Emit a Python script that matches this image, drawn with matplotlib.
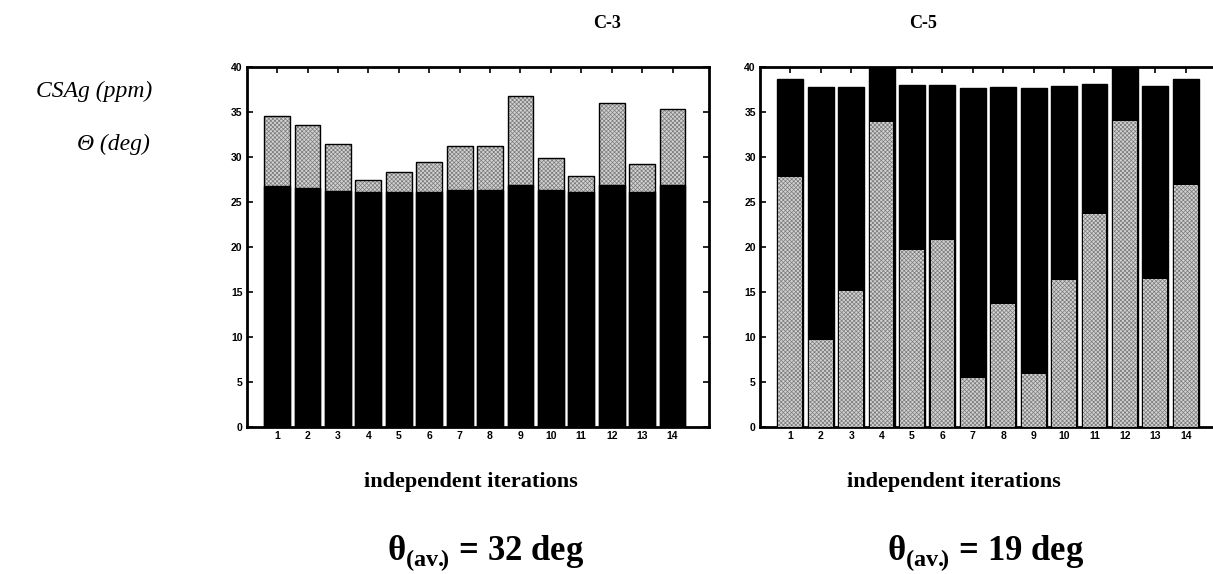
import matplotlib
matplotlib.use("Agg")
import matplotlib.pyplot as plt
import numpy as np

plt.rcParams['mathtext.fontset'] = 'custom'
plt.rcParams['mathtext.rm'] = 'Liberation Serif:bold'
plt.rcParams['mathtext.bf'] = 'Liberation Serif:bold'
plt.rcParams['hatch.linewidth'] = 0.5

iterations = list(range(1, 15))

# C-3: theta (stippled, behind) and CSAg (black, in front)
c3_theta = [34.5, 33.5, 31.4, 27.4, 28.3, 29.4, 31.2, 31.2, 36.7, 29.8, 27.9, 36.0, 29.2, 35.3]
c3_csag = [26.7, 26.5, 26.2, 26.1, 26.1, 26.1, 26.3, 26.3, 26.9, 26.3, 26.1, 26.8, 26.1, 26.8]

# C-5: CSAg (black, behind) and theta (stippled, in front)
c5_csag = [38.6, 37.7, 37.7, 42.0, 37.9, 37.9, 37.6, 37.7, 37.6, 37.8, 38.1, 42.0, 37.8, 38.6]
c5_theta = [27.7, 9.6, 15.05, 33.8, 19.65, 20.7, 5.4, 13.6, 5.9, 16.3, 23.6, 34.0, 16.45, 26.9]

titles = ['C-3', 'C-5']
averages = [32, 19]

STIP = '#d2d2d2'
DOTS = '#7a7a7a'


def style_axes(ax):
    ax.set_xlim(0, 15.2)
    ax.set_ylim(0, 40)
    ax.set_xticks(iterations)
    ax.set_yticks(np.arange(0, 41, 5))
    ax.tick_params(direction='in', top=True, right=True, length=4, width=1.2,
                   labelsize=7.5, pad=3)
    for lab in ax.get_xticklabels() + ax.get_yticklabels():
        lab.set_fontfamily('Liberation Sans')
        lab.set_fontweight('bold')
    for sp in ax.spines.values():
        sp.set_linewidth(2.0)


fig = plt.figure(figsize=(12.13, 5.74), dpi=100)
ax1 = fig.add_axes([0.2034, 0.2561, 0.3811, 0.628])
ax2 = fig.add_axes([0.6265, 0.2561, 0.3811, 0.628])

w = 0.85
# stippled bars: hatch drawn in a mid grey, then a black outline on top
ax1.bar(iterations, c3_theta, width=w, color=STIP, edgecolor=DOTS, linewidth=0,
        hatch='xxxxxxxx', zorder=2)
ax1.bar(iterations, c3_theta, width=w, fill=False, edgecolor='black', linewidth=1.0, zorder=2.5)
ax1.bar(iterations, c3_csag, width=w, color='black', edgecolor='black', linewidth=1.0, zorder=3)

ax2.bar(iterations, c5_csag, width=w, color='black', edgecolor='black', linewidth=1.0, zorder=2)
ax2.bar(iterations, c5_theta, width=w * 0.92, color=STIP, edgecolor=DOTS, linewidth=0,
        hatch='xxxxxxxx', zorder=3)

for ax in (ax1, ax2):
    style_axes(ax)

serif = 'Liberation Serif'
fig.text(607 / 1213, 1 - 23 / 574, titles[0], ha='center', va='center',
         family=serif, weight='bold', fontsize=13)
fig.text(923 / 1213, 1 - 23 / 574, titles[1], ha='center', va='center',
         family=serif, weight='bold', fontsize=13)

for xc in (471, 954):
    fig.text(xc / 1213, 1 - 482 / 574, 'independent iterations', ha='center', va='center',
             family=serif, weight='bold', fontsize=16)

for xc, av in zip((486, 986), averages):
    fig.text(xc / 1213, 1 - 553 / 574, r'θ$_{\mathbf{(av.\!\!)}}$ = %d deg' % av,
             ha='center', va='center', family=serif, weight='bold', fontsize=25)

fig.text(152 / 1213, 1 - 91 / 574, 'CSAg (ppm)', ha='right', va='center',
         family=serif, style='italic', fontsize=17)
fig.text(150 / 1213, 1 - 144 / 574, 'Θ (deg)', ha='right', va='center',
         family=serif, style='italic', fontsize=17)

fig.savefig('out.png', dpi=100)
